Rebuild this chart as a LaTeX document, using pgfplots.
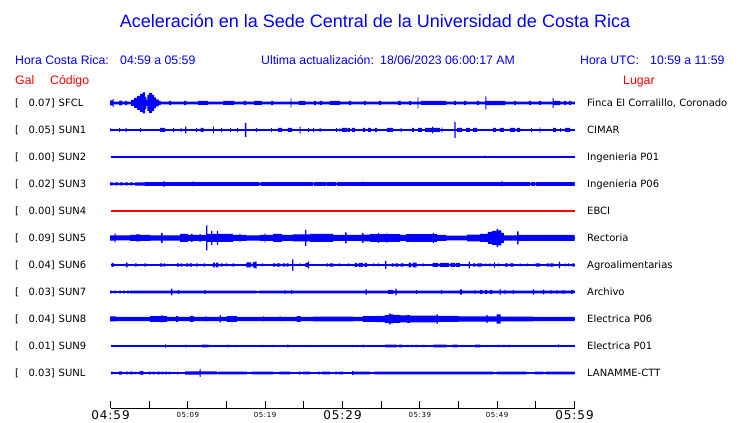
\documentclass[border=0pt]{standalone}
\usepackage{fontspec}
\setmainfont{Liberation Sans}
\newfontfamily\dejavu{DejaVu Sans}
\newfontfamily\tickfont[LetterSpace=8]{DejaVu Sans}
\usepackage{pgfplots}
\pgfplotsset{compat=1.18}
\usepgfplotslibrary{fillbetween}
\usepackage{pgfplotstable}
\definecolor{tblue}{RGB}{0,0,255}
\definecolor{tred}{RGB}{255,0,0}

% p = horizontal position in reference pixels (110.5 = 04:59, 574.5 = 05:59), a = half amplitude (pt)
\pgfplotstableread{
p a
110 2.5
112.5 4
113.5 1.3
119 2.3
122 1.3
125 2.2
127 1.3
131 3
134 5
137 7
140 9
142.5 10.5
145 6
146.3 3
147.3 8
149 10
152 8
154 5.5
156 3.5
158.5 2.2
160.5 1.3
169 2.2
171 1.3
184 2.2
186 1.3
198 2
208 1.3
223 2
234 1.3
244 2
246 1.3
254 2
262 1.3
271 2.2
273 1.3
290.5 4.5
291.5 1.3
299 2
305 1.3
314 2.2
316 1.3
320 2
322 1.3
330 2
340 1.3
349 2
351 1.3
364 2
366 1.3
379 2
381 1.3
398 2
401 1.3
409 1.8
411 1.3
417.5 5.5
418.5 1.3
421 2
446 1.3
454 2
456 1.3
464 2
466 1.3
477 2
479 1.3
485.5 6.5
486.5 2.2
505 1.3
514 2
516 1.3
529 2
531 1.3
539 2
541 1.3
552.5 5
553.5 2.2
560 1.3
564 2
566 1.3
569 2
571 1.3
574.5 1.3
}\tSFCL

\pgfplotstableread{
p a
110 1.5
111 0
119 1.8
120 0
125.5 1.8
126.5 0
140 1.8
141 0
160 2
165 0
173 1.8
174 0
180.5 1.8
181.5 0
185 3.3
186.3 0
196 1.8
197 0
200.5 2
203.5 0
213 3.3
214 0
221 1.8
222 0
230 1.8
231 0
237 1.8
238 0
245 7
246.3 0
256 1.8
257 0
271 1.8
272 0
278 2
282 0
288 2
292 0
299.5 3.3
300.7 0
308 1.8
309 0
313 1.8
314 0
319.5 1.8
320.5 0
336 1.8
337 0
339.5 1.8
340.5 0
342 2
347 0
348 2
350 0
352 2
355 0
363 2
365 0
368 2
371 0
375 2
377 0
387 2
393 0
400.5 1.8
401.5 0
412 2
414 0
418 2
422 0
425 2
432.2 3.3
433.2 2
440 0
441.5 2.7
442.5 0
454.5 8
455.5 0
457 2
462 0
466 2
470 0
473 2
477 0
493 2
496 0
500 2
504 0
510 2
515 0
517 2
520 0
531 1.8
532 0
539.5 2.7
540.5 0
553 2
556 0
560 1.8
561 0
565 2
570 0
574.5 0
}\tSUNa

\pgfplotstableread{
p a
110 0
484.5 1.5
485.5 0
574.5 0
}\tSUNb

\pgfplotstableread{
p a
110 1.5
113 0.6
115 1.5
118 0.6
120 1.5
123 0.6
125 1.5
128 0.6
130 1.5
133 0.6
135 1.6
145 1.8
163.5 3
164.7 1.8
192.5 2.5
193.5 1.8
259.5 1
260.5 1.8
313 1
314 1.8
326 1
327 1.8
336 1
337 1.8
362.5 2.5
363.5 1.8
501.5 2.5
502.5 1.8
530 1
531 1.8
535 1
536 1.8
574.5 1.8
}\tSUNc

\pgfplotstableread{
p a
110 2.7
114.5 4.5
115.5 2.5
130 3
136 3.5
140 3
150 2.7
161 5
162.5 2.7
180 4
188 3
191 4
192.5 3
199.5 4
200.5 3
206 12.5
207.3 4
211 7
212.3 4
217 7
218.2 4
233 3
239.5 4.5
240.5 3
246 2.7
260 3
264.5 4.5
265.5 3
273 4
282 3
293 3.5
305 8
306.3 3.5
310 4
333 3
345 5.5
346.5 3
362 5
363.5 3.3
370 3.8
378 5
379 3.8
386.5 5
387.5 3.8
400 3
406 3.8
433 5
434 3.8
437 3
446 2.3
467 3.3
480 4
488 6
492 7
496.5 9
498 7.5
501.5 5
504 2.7
517.2 6.5
518.5 3
574.5 3
}\tSUNe

\pgfplotstableread{
p a
110 0
111.5 2
113.5 0
126 2.3
127.5 0
135 1.7
136.5 0
144.5 2
145.5 0
160 1.7
162 0
163.5 1.7
165 0
177 1.7
179 0
180.5 1.7
182 0
186 1.7
188 0
189.5 1.7
192 0
196 1.7
197.5 0
203.5 1.7
205 0
213 2.3
215 0
216 2.3
218.5 0
221 1.7
222.5 0
226 1.5
227.5 0
232.5 1.7
234 0
246.5 2.5
251 0
252.5 2.5
254.5 3.3
256.5 0
262 1.5
263 0
273 1.7
275 0
276.5 1.7
280 0
283 1.7
285 0
286.5 1.7
288.5 0
292.2 5.7
293.3 0
299.5 1.5
300.5 0
305.5 2
307.5 3.3
309 0
326.5 1.7
328 0
330 1.7
333.5 0
339 1.5
340 0
348 1.5
349 0
355 2
357 0
358.5 2
363 0
364.5 2
367 0
373 1.5
374 0
378 1.5
379 0
385.2 4
386.3 0
391.5 1.7
393.5 0
395.5 1.7
398 0
400.5 1.7
403.5 0
408.5 2.3
411 0
412.5 2.3
416.5 0
422.5 1.5
423.5 0
432.5 2
438 0
439.5 2
449 0
450.5 2
455 0
456 2
460 0
468.5 3.3
469.8 0
473 1.7
475.5 0
477.5 1.7
482 0
485.5 1.5
486.5 0
489.5 1.5
490.5 0
493.8 2.7
495 0
498 1.5
499 0
505 1.7
508 0
510 1.7
513.5 0
519.5 1.5
520.5 0
526.5 1.5
527.5 0
535.5 1.7
540 0
546.5 1.7
548.5 0
550 1.7
553.5 0
558.8 3.3
560 0
564.5 1.5
565.5 0
568 1.5
569 0
572.5 1.7
574.5 0
}\tSUNf

\pgfplotstableread{
p a
110 1.3
112 0.5
114 1.3
116 0.5
119 1.3
121 0.5
123 1.3
125 0.5
127 1.3
129 0.6
130 1.3
171 3.3
172.3 1.3
178 1.8
179 1.3
204.5 1.8
205.5 1.3
256.5 0.6
259 1.3
284.5 2
285.5 1.3
291.2 1.8
292.2 1.3
365.5 3
366.7 1.3
388 2
393 1.3
395.5 3.3
396.7 1.3
416 1.8
417 1.3
441 1.8
442 1.3
460 2.7
462 1.3
474.5 2
475.5 1.3
480 2
482 1.3
485 2
487 1.3
490 2
492 1.3
499.5 3
500.7 1.3
504.5 2.3
505.5 1.3
512.8 2
513.8 1.3
532.8 2.7
534 1.3
542.8 2.3
544 1.3
550 1.7
552 1.3
556 1.7
558 1.3
562 1.7
565 1.3
571.2 2
572.5 1.5
574.5 1.5
}\tSUNg

\pgfplotstableread{
p a
110 2.5
116 2.1
150 2.8
161 3.5
162.5 2.8
167 2.1
176 2.8
178 2.1
190 3
193.5 2.1
205.5 2.5
206.5 2.1
219.5 3.5
220.8 2.1
226.5 2.8
237 2.1
263 2.5
264 2.1
279.5 2.5
280.5 2.1
296.5 2.8
300.5 2.1
313 2.4
353 2.1
363 2.8
375 3.2
385 3.8
389 5.3
390.5 4.5
393 4
400 3.5
407 4
410 3.4
436.5 4.7
437.8 3
458 2.7
486.3 4
487.5 2.6
496.5 4.7
500.5 2.4
533 2.1
574.5 2.1
}\tSUNh

\pgfplotstableread{
p a
110 0
165 1.7
166 0
185.3 1.3
186.3 0
193 1.2
194 0
196.5 1.2
197.5 0
201.5 1.3
208.5 0
210.5 1.2
211.5 0
214.5 1.2
215.5 0
220.3 1.2
221.3 0
226.5 1.2
230 0
235.5 1.2
236.5 0
262 1.2
263 0
272 1.2
273 0
287.3 1.7
288.3 0
306.3 1.2
307.3 0
352 1.2
353 0
356.3 1.2
357.3 0
363 1.3
364 0
373 1.2
374 0
377 1.2
378 0
381 1.2
382 0
385 1.3
396.7 0
399 1.3
402.3 0
406.5 1.2
409 0
411 1.2
413 0
415 1.2
418 0
421 1.2
425 0
433.3 1.3
446.7 0
452.7 1.3
457.7 0
461.7 1.2
463 0
465.5 1.2
466.7 0
475 1.3
480 0
486.3 1.2
487.3 0
496.7 1.2
500 0
502 1.2
505 0
507 1.2
510 0
558 1.5
559 0
574.5 0
}\tSUNi

\pgfplotstableread{
p a
110 0
111 1.3
112.5 0
119 1.7
122 0
126 1.3
128 0
129.5 1.3
133 0
134.5 1.3
135.5 0
139 1.5
141 2
142.5 1.5
143.5 0
149 1.3
151 0
152.5 1.3
155 0
157 1.3
160 0
161.5 1.3
163.5 0
165 1.3
167 0
168.5 1.3
170 0
177.2 1.3
178.2 0
185 1.7
199.5 4
200.7 1.5
217 0.5
218.3 1.4
247 0.5
251.7 1.4
273.3 0.5
279.3 1.4
290 0.5
298.3 1.4
301 0.5
303 1.4
310 0.5
318.3 1.4
320 0.5
322 1.4
330 0.5
335 1.4
337 0.5
339 1.4
343.3 0.5
352 2
353.3 1.4
370 0.5
374.3 1.4
493.3 0.5
496.7 1.4
526.7 0.5
535 1.4
543.3 0.5
545.7 1.4
574.5 1.4
}\tSUNL

% #1 id, #2 offset, #3 table, #4 colour, #5 baseline width
\newcommand{\trace}[5]{%
  \addplot[draw=#4, line width=#5, forget plot] coordinates {(0,#2) (60,#2)};
  \addplot[name path=U#1, draw=none, const plot, forget plot]
    table[x expr=(\thisrow{p}-110.5)/7.7333, y expr=#2+\thisrow{a}] {#3};
  \addplot[name path=L#1, draw=none, const plot, forget plot]
    table[x expr=(\thisrow{p}-110.5)/7.7333, y expr=#2-\thisrow{a}] {#3};
  \addplot[fill=#4, draw=none, forget plot, on layer=main] fill between[of=U#1 and L#1];
}

\newcommand{\TL}[1]{{\fontsize{12}{13}\tickfont #1}}
\newcommand{\TS}[1]{\raisebox{2.3pt}{\fontsize{7}{8}\tickfont #1}}

\begin{document}
\begin{tikzpicture}[x=1pt,y=1pt]
\path (0,0) rectangle (740,423);

\node[anchor=base, text=tblue, font=\fontsize{18}{20}\selectfont, inner sep=0pt] at (375,395)
  {Aceleración en la Sede Central de la Universidad de Costa Rica};

\begin{scope}[every node/.style={anchor=base west, inner sep=0pt, font=\fontsize{12.3}{14}\selectfont}]
\node[text=tblue] at (15,358) {Hora Costa Rica:};
\node[text=tblue] at (120,358) {04:59 a 05:59};
\node[text=tblue] at (261,358) {Ultima actualización:};
\node[text=tblue] at (380,358) {18/06/2023 06:00:17 AM};
\node[text=tblue] at (580,358) {Hora UTC:};
\node[text=tblue] at (650,358) {10:59 a 11:59};
\node[text=tred] at (15,338) {Gal};
\node[text=tred] at (50,338) {Código};
\node[text=tred] at (623,338) {Lugar};
\end{scope}

\begin{scope}[every node/.style={inner sep=0pt, font=\dejavu\fontsize{10}{12}\selectfont}]
\foreach \val/\code/\place [count=\i from 0] in {
  0.07/SFCL/{Finca El Corralillo, Coronado},
  0.05/SUN1/CIMAR,
  0.00/SUN2/Ingenieria P01,
  0.02/SUN3/Ingenieria P06,
  0.00/SUN4/EBCI,
  0.09/SUN5/Rectoria,
  0.04/SUN6/Agroalimentarias,
  0.03/SUN7/Archivo,
  0.04/SUN8/Electrica P06,
  0.01/SUN9/Electrica P01,
  0.03/SUNL/LANAMME-CTT}{
  \pgfmathsetmacro{\yb}{316.3-27*\i}
  \node[anchor=base west] at (15,\yb) {[};
  \node[anchor=base east] at (55,\yb) {\val]};
  \node[anchor=base west] at (58.5,\yb) {\code};
  \node[anchor=base west] at (587,\yb) {\place};
}
\end{scope}

\begin{axis}[
  at={(110.5pt,14.5pt)}, anchor=origin,
  scale only axis, width=464pt, height=320pt,
  xmin=0, xmax=60, ymin=0, ymax=320,
  axis x line=bottom, axis y line=none,
  x axis line style={-, line width=0.9pt, black},
  xtick={0,5,...,60}, xtick align=inside,
  major tick length=7pt,
  every tick/.style={black, line width=0.9pt},
  xticklabels={\TL{04:59},,\TS{05:09},,\TS{05:19},,\TL{05:29},,\TS{05:39},,\TS{05:49},,\TL{05:59}},
  xticklabel style={anchor=base, yshift=-11.5pt, inner sep=0pt},
  ytick=\empty, clip=false,
]
\trace{1}{305.5}{\tSFCL}{tblue}{1.5pt}
\trace{2}{278.5}{\tSUNa}{tblue}{1.3pt}
\trace{3}{251.5}{\tSUNb}{tblue}{1.1pt}
\trace{4}{224.5}{\tSUNc}{tblue}{1.3pt}
\addplot[draw=tred, line width=1.1pt, forget plot] coordinates {(0,197.5) (60,197.5)};
\trace{6}{170.5}{\tSUNe}{tblue}{1.5pt}
\trace{7}{143.5}{\tSUNf}{tblue}{1.3pt}
\trace{8}{116.5}{\tSUNg}{tblue}{1.3pt}
\trace{9}{89.5}{\tSUNh}{tblue}{1.5pt}
\trace{10}{62.5}{\tSUNi}{tblue}{1.1pt}
\trace{11}{35.5}{\tSUNL}{tblue}{1.3pt}
\end{axis}
\pgfresetboundingbox
\useasboundingbox (0,0) rectangle (740,423);
\end{tikzpicture}
\end{document}
